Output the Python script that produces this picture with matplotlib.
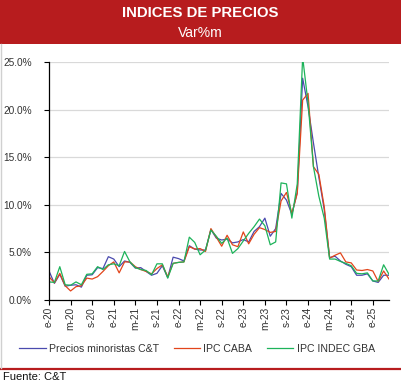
import matplotlib
matplotlib.use("Agg")
import matplotlib.pyplot as plt
from matplotlib.ticker import FuncFormatter, FixedLocator
import numpy as np

# ---- data (monthly % variation, Jan-2020 .. Apr-2025) ----
months_es = ["e", "f", "m", "a", "m", "j", "j", "a", "s", "o", "n", "d"]
years = [20, 21, 22, 23, 24, 25]
n_months = 64
labels = [f"{months_es[i % 12]}-{years[i // 12]}" for i in range(n_months)]

ct_minoristas = [3.05, 1.75, 2.7, 1.45, 1.55, 1.6, 1.35, 2.6, 2.65, 3.4, 3.3, 4.55,
                 4.3, 3.5, 4.1, 3.95, 3.35, 3.4, 3.0, 2.6, 2.8, 3.6, 2.35, 4.5,
                 4.35, 4.1, 5.7, 5.35, 5.25, 5.25, 7.4, 6.5, 6.3, 6.4, 6.0, 6.1,
                 6.35, 6.1, 7.2, 7.7, 8.6, 6.7, 7.5, 11.2, 10.5, 9.0, 11.3, 23.3,
                 20.3, 16.5, 12.9, 9.5, 4.45, 4.6, 4.1, 3.75, 3.5, 2.6, 2.6, 2.75,
                 2.0, 1.85, 2.6, 2.6]

ipc_caba = [2.45, 1.8, 2.8, 1.5, 0.95, 1.4, 1.5, 2.3, 2.2, 2.45, 3.0, 3.6,
            4.0, 2.85, 4.0, 4.0, 3.5, 3.2, 3.0, 2.75, 3.3, 3.7, 2.45, 3.85,
            3.95, 4.0, 5.6, 5.35, 5.4, 5.1, 7.5, 6.6, 5.65, 6.8, 5.8, 5.6,
            7.15, 5.9, 6.9, 7.6, 7.4, 7.1, 7.2, 10.4, 11.3, 9.1, 11.2, 21.0,
            21.7, 14.0, 13.2, 9.8, 4.4, 4.7, 4.95, 4.0, 3.9, 3.15, 3.1, 3.2,
            3.05, 1.95, 3.05, 2.2]

ipc_indec_gba = [1.9, 1.85, 3.5, 1.6, 1.55, 1.9, 1.6, 2.7, 2.75, 3.5, 3.2, 3.7,
                 3.8, 3.6, 5.1, 4.0, 3.4, 3.2, 3.1, 2.65, 3.8, 3.8, 2.3, 3.85,
                 3.95, 4.0, 6.6, 6.05, 4.75, 5.25, 7.35, 6.7, 5.95, 6.5, 4.9, 5.4,
                 6.2, 7.0, 7.7, 8.5, 7.8, 5.8, 6.1, 12.3, 12.2, 8.6, 12.2, 25.5,
                 20.7, 14.0, 10.9, 8.6, 4.3, 4.3, 4.05, 3.85, 3.6, 2.8, 2.75, 2.85,
                 2.0, 2.0, 3.7, 2.7]

series_names = ["Precios minoristas C&T", "IPC CABA", "IPC INDEC GBA"]
series_colors = ["#4A4AAE", "#E2451B", "#1DB35A"]
y_ticks = [0, 5, 10, 15, 20, 25]

W, H = 401, 384
fig = plt.figure(figsize=(W / 100, H / 100), dpi=100)
fig.patch.set_facecolor("white")

# title bar
red = "#B71C1E"
fig.patches.append(matplotlib.patches.Rectangle((0, 1 - 44 / H), 1, 44 / H,
                   transform=fig.transFigure, facecolor=red, edgecolor="none", zorder=0))
fig.text(200 / W, 1 - 13 / H, "INDICES DE PRECIOS", color="white", fontsize=10.7,
         fontweight="bold", family="Liberation Sans", ha="center", va="center")
fig.text(200 / W, 1 - 33 / H, "Var%m", color="white", fontsize=10,
         family="Liberation Sans", ha="center", va="center")

# bottom rule and source
fig.lines.append(matplotlib.lines.Line2D([0, 1], [1 - 368.5 / H] * 2, transform=fig.transFigure,
                 color=red, lw=1.6))
fig.text(3 / W, 1 - 376.5 / H, "Fuente: C&T", color="#111111", fontsize=8,
         family="Liberation Sans", ha="left", va="center")
# left light frame
fig.lines.append(matplotlib.lines.Line2D([0.5 / W] * 2, [1 - 368 / H, 1 - 44 / H],
                 transform=fig.transFigure, color="#D0D0D0", lw=1))

ax = fig.add_axes([49 / W, 1 - 300 / H, 340 / W, 238 / H])
x = np.arange(n_months)
for vals, name, col in zip([ct_minoristas, ipc_caba, ipc_indec_gba], series_names, series_colors):
    ax.plot(x, vals, color=col, lw=0.9, label=name)

ax.set_xlim(0, n_months - 1)
ax.set_ylim(0, 25)
ax.set_yticks(y_ticks)
ax.yaxis.set_major_formatter(FuncFormatter(lambda v, p: f"{v:.1f}%"))
ax.grid(axis="y", color="#D9D9D9", lw=0.9)
ax.set_axisbelow(True)
tick_pos = list(range(0, n_months, 4))
ax.set_xticks(tick_pos)
ax.set_xticklabels([labels[i] for i in tick_pos], rotation=90, va="top", ha="center")
for s in ["top", "right"]:
    ax.spines[s].set_visible(False)
for s in ["left", "bottom"]:
    ax.spines[s].set_color("black")
    ax.spines[s].set_linewidth(0.9)
ax.tick_params(axis="both", length=3.5, width=0.8, color="black", labelcolor="#333333",
               labelsize=7.3)
ax.tick_params(axis="y", pad=9)
ax.tick_params(axis="x", pad=1.5)
for lab in ax.get_xticklabels() + ax.get_yticklabels():
    lab.set_family("Liberation Sans")

leg = fig.legend(loc="center", bbox_to_anchor=(197 / W, 1 - 349 / H), ncol=3, frameon=False,
                 prop={"family": "Liberation Sans", "size": 7.6}, handlelength=2.5,
                 handletextpad=0.3, columnspacing=1.4, labelcolor="#333333")

fig.savefig("out.png", dpi=100)
